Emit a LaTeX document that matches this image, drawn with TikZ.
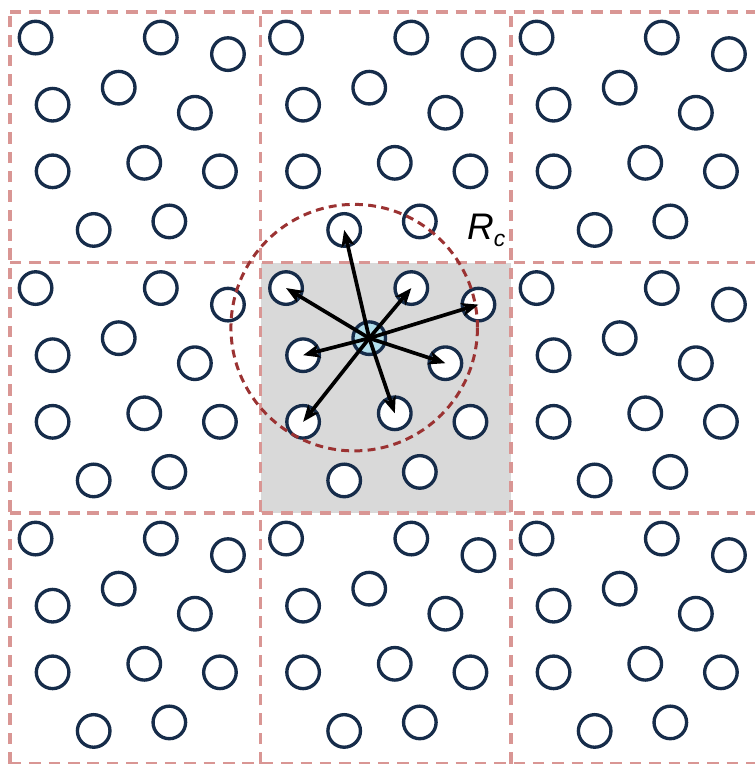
\documentclass[tikz,border=0pt]{standalone}
\usepackage{fontspec}
\setmainfont{Liberation Sans}
\usetikzlibrary{arrows.meta, calc}
\definecolor{partnavy}{RGB}{22,44,74}
\definecolor{gridpink}{RGB}{217,150,148}
\definecolor{cutred}{RGB}{155,50,50}
\definecolor{cellgray}{RGB}{217,217,217}
\definecolor{ctrblue}{RGB}{178,222,235}

\begin{document}
\begin{tikzpicture}[
    particle/.style={circle, draw=partnavy, line width=1.9pt, fill=white, minimum size=0.65cm, inner sep=0pt},
    gridline/.style={draw=gridpink, line width=1.8pt, dash pattern=on 6.5pt off 4.5pt},
    cutoff/.style={draw=cutred, line width=1.7pt, dash pattern=on 4.5pt off 3pt},
    arrow/.style={line width=2.1pt, -{Stealth[length=9.5pt, width=7.5pt, inset=2.5pt]}}
]
    \useasboundingbox (-0.2,0.24) rectangle (14.87,-15.01);
    % central box and its periodic images
    \fill[cellgray] (5,-5) rectangle (10,-10);
    \draw[gridline, step=5] (0,-15) grid (15,0);
    \foreach \i in {0,1,2}
    \foreach \j in {0,1,2} {
        \foreach \x/\y [count=\k] in {0.51/0.51, 3.01/0.51, 4.35/0.84, 2.17/1.51, 0.85/1.85, 3.69/2.01,
                                      0.85/3.18, 2.68/3.01, 4.19/3.18, 1.67/4.35, 3.18/4.18} {
            \def\pfill{white}
            \ifnum\i\j\k=114 \def\pfill{ctrblue}\fi
            \node[particle, fill=\pfill] (p\i\j-\k) at (5*\i+\x, -5*\j-\y) {};
        }
    }
    % cutoff sphere and neighbours
    \draw[cutoff] (6.87,-6.30) circle (2.46);
    \foreach \t in {p11-1, p11-2, p11-3, p11-5, p11-6, p11-7, p11-8, p10-10}
        \draw[arrow] (p11-4.center) -- (\t.center);
    \node[font=\fontsize{21}{24}\selectfont\itshape, anchor=base west, inner sep=0pt] (rc) at (9.12,-4.55)
        {R\raisebox{-3.5pt}{\fontsize{13}{13}\selectfont c}};
\end{tikzpicture}
\end{document}
